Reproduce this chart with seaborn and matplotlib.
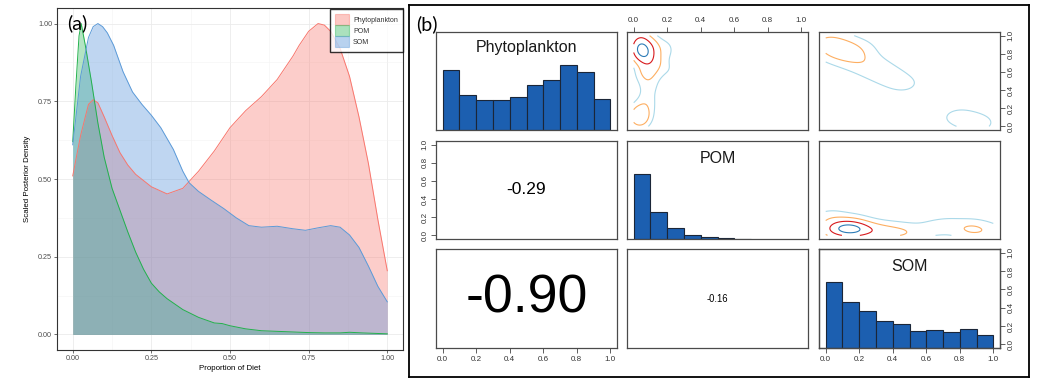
import numpy as np
import matplotlib
matplotlib.use("Agg")
import matplotlib.pyplot as plt
import seaborn as sns
from matplotlib.patches import Patch

# ---- panel (a): scaled posterior densities ----
phyto_x = [0.00, 0.025, 0.05, 0.065, 0.08, 0.10, 0.125, 0.15, 0.175, 0.20, 0.25, 0.30,
           0.35, 0.40, 0.45, 0.50, 0.55, 0.60, 0.65, 0.70, 0.72, 0.75, 0.78, 0.80,
           0.82, 0.85, 0.88, 0.91, 0.94, 0.97, 1.00]
phyto_y = [0.51, 0.64, 0.74, 0.755, 0.745, 0.70, 0.64, 0.585, 0.545, 0.515, 0.475, 0.452,
           0.47, 0.525, 0.59, 0.665, 0.72, 0.765, 0.82, 0.895, 0.93, 0.975, 1.00, 0.995,
           0.975, 0.92, 0.83, 0.70, 0.55, 0.37, 0.205]

pom_x = [0.00, 0.01, 0.02, 0.027, 0.04, 0.06, 0.08, 0.10, 0.125, 0.15, 0.175, 0.20,
         0.225, 0.25, 0.275, 0.30, 0.35, 0.40, 0.45, 0.475, 0.50, 0.55, 0.60, 0.65,
         0.70, 0.75, 0.80, 0.85, 0.88, 0.92, 1.00]
pom_y = [0.62, 0.80, 0.96, 1.00, 0.93, 0.81, 0.68, 0.57, 0.47, 0.40, 0.33, 0.265,
         0.21, 0.165, 0.137, 0.115, 0.08, 0.055, 0.037, 0.035, 0.028, 0.018, 0.012, 0.010,
         0.008, 0.006, 0.005, 0.005, 0.007, 0.005, 0.002]

som_x = [0.00, 0.025, 0.05, 0.065, 0.08, 0.095, 0.11, 0.13, 0.16, 0.19, 0.22, 0.25,
         0.28, 0.32, 0.35, 0.37, 0.40, 0.44, 0.48, 0.52, 0.56, 0.60, 0.65, 0.70,
         0.74, 0.78, 0.82, 0.85, 0.88, 0.91, 0.94, 0.97, 1.00]
som_y = [0.61, 0.83, 0.955, 0.99, 1.00, 0.99, 0.97, 0.93, 0.845, 0.78, 0.74, 0.705,
         0.665, 0.595, 0.525, 0.488, 0.46, 0.432, 0.405, 0.375, 0.35, 0.345, 0.348, 0.34,
         0.335, 0.343, 0.35, 0.345, 0.32, 0.28, 0.22, 0.155, 0.105]

sources = ["Phytoplankton", "POM", "SOM"]
line_colors = ["#F8766D", "#22B14C", "#5B9AD8"]
fill_colors = ["#F8766D", "#2DB55A", "#4F8FD9"]

# ---- panel (b): pairs plot ----
# relative histogram heights, bins of width 0.1 starting at 0
hist_phyto = [0.92, 0.53, 0.46, 0.46, 0.51, 0.69, 0.76, 1.00, 0.89, 0.47]
hist_pom = [1.00, 0.41, 0.17, 0.066, 0.03, 0.012, 0.006]
hist_som = [1.00, 0.69, 0.56, 0.415, 0.36, 0.256, 0.28, 0.25, 0.29, 0.20]

# correlations shown in the lower panels
corr_vals = {(1, 0): -0.29, (2, 0): -0.90, (2, 1): -0.16}

# representative posterior draws (location + weight) for the contour panels
pp_pom = [0.045, 0.08, 0.11, 0.14, 0.07, 0.19, 0.09, 0.08, 0.07, 0.035, 0.22, 0.02, 0.12, 0.05]
pp_phy = [0.84, 0.76, 0.88, 0.70, 0.60, 0.85, 0.45, 0.30, 0.20, 0.11, 0.62, 0.94, 0.60, 0.98]
pp_w = [10, 4, 2.5, 1.8, 2.5, 1.2, 1.3, 1.1, 1.1, 5.5, 0.6, 2, 1.0, 2]

sp_som = [0.08, 0.15, 0.03, 0.22, 0.30, 0.38, 0.46, 0.80, 0.90, 0.00, 0.18]
sp_phy = [0.85, 0.79, 0.91, 0.71, 0.63, 0.55, 0.47, 0.10, 0.04, 0.98, 0.86]
sp_w = [6, 4, 3, 2, 1.6, 1.3, 1.0, 1.2, 1.4, 1.5, 1.0]

so_som = [0.13, 0.20, 0.05, 0.30, 0.40, 0.50, 0.64, 0.74, 0.87, 0.98, 0.03, 0.15]
so_pom = [0.07, 0.06, 0.07, 0.05, 0.04, 0.03, 0.08, 0.11, 0.07, 0.04, 0.19, 0.14]
so_w = [8, 5, 4, 3, 2.4, 1.8, 1.2, 1.2, 3.0, 1.4, 1.6, 1.2]

contour_cols = ["#abd9e9", "#fdae61", "#d7191c", "#2c7bb6"]
bar_col = "#1c5fb0"
bar_edge = "#1b2638"

W, H = 1044, 388
plt.rcParams["font.family"] = ["Liberation Sans", "DejaVu Sans"]
fig = plt.figure(figsize=(W / 100, H / 100), dpi=100)


def px_axes(x0, y0, x1, y1, **kw):
    return fig.add_axes([x0 / W, 1 - y1 / H, (x1 - x0) / W, (y1 - y0) / H], **kw)


def density_grid(xs, ys, ws, bx, by, n=201):
    # gaussian kernel density of the weighted draws on [0, 1] x [0, 1]
    g = np.linspace(0, 1, n)
    gx, gy = np.meshgrid(g, g)
    z = np.zeros_like(gx)
    for x, y, w in zip(xs, ys, ws):
        z += w * np.exp(-0.5 * ((gx - x) / bx) ** 2 - 0.5 * ((gy - y) / by) ** 2)
    return gx, gy, z / z.max()


# ================= panel (a) =================
axa = px_axes(57, 8, 403, 350)
axa.set_xlim(-0.05, 1.05)
axa.set_ylim(-0.05, 1.05)
axa.set_xticks([0, 0.25, 0.5, 0.75, 1.0])
axa.set_yticks([0, 0.25, 0.5, 0.75, 1.0])
axa.set_xticks(np.arange(0.125, 1.0, 0.25), minor=True)
axa.set_yticks(np.arange(0.125, 1.0, 0.25), minor=True)
axa.grid(which="major", color="#ebebeb", lw=0.6)
axa.grid(which="minor", color="#f3f3f3", lw=0.4)
axa.set_axisbelow(True)
axa.tick_params(which="minor", length=0)
axa.tick_params(which="major", length=2, width=0.5, color="#333333",
                labelsize=5.2, labelcolor="#4d4d4d", pad=1.5)
axa.set_xticklabels(["0.00", "0.25", "0.50", "0.75", "1.00"])
axa.set_yticklabels(["0.00", "0.25", "0.50", "0.75", "1.00"])
for s in axa.spines.values():
    s.set_color("#333333")
    s.set_linewidth(0.8)

curves = [(phyto_x, phyto_y), (pom_x, pom_y), (som_x, som_y)]
for (cx, cy), lc, fc in zip(curves, line_colors, fill_colors):
    axa.fill_between(cx, 0, cy, color=fc, alpha=0.36, lw=0)
    sns.lineplot(x=cx, y=cy, color=lc, lw=0.7, ax=axa)

axa.set_xlabel("Proportion of Diet", fontsize=5.7, labelpad=2)
axa.set_ylabel("Scaled Posterior Density", fontsize=5.7, labelpad=5)

handles = [Patch(facecolor=fc, edgecolor=lc, alpha=0.4, lw=0.8)
           for lc, fc in zip(line_colors, fill_colors)]
leg = axa.legend(handles, sources, loc="upper right", bbox_to_anchor=(1.0, 0.997),
                 borderaxespad=0, fontsize=5, frameon=True, fancybox=False,
                 handlelength=2.0, handleheight=1.9, labelspacing=0.12,
                 borderpad=0.75, handletextpad=0.6)
leg.get_frame().set_edgecolor("black")
leg.get_frame().set_linewidth(1.0)
for t in leg.get_texts():
    t.set_color("#333333")

fig.text(77 / W, 1 - 23 / H, "(a)", ha="center", va="center", fontsize=14,
         family=["Lato", "DejaVu Sans"])

# ================= panel (b) =================
frame = px_axes(409, 5, 1029, 377, zorder=-1)
frame.set_xticks([])
frame.set_yticks([])
for s in frame.spines.values():
    s.set_color("black")
    s.set_linewidth(1.3)

fig.text(427 / W, 1 - 24 / H, "(b)", ha="center", va="center", fontsize=14,
         family=["Lato", "DejaVu Sans"])

cols_px = [(436, 617), (627, 808), (819, 1000)]
rows_px = [(32, 130), (141, 239), (249, 348)]
lims = (-0.04, 1.04)
ticks = np.arange(0, 1.01, 0.2)
tick_lbls = [f"{t:.1f}" for t in ticks]
tick_kw = dict(length=3.5, width=0.6, color="#444444", labelsize=5.8,
               labelcolor="#333333", pad=2)

cells = {}
for r, (y0, y1) in enumerate(rows_px):
    for c, (x0, x1) in enumerate(cols_px):
        ax = px_axes(x0, y0, x1, y1)
        ax.set_xlim(*lims)
        ax.set_xticks([])
        ax.set_yticks([])
        for s in ax.spines.values():
            s.set_color("#4a4a4a")
            s.set_linewidth(0.9)
        cells[(r, c)] = ax

# diagonal histograms
hists = [hist_phyto, hist_pom, hist_som]
label_y = [0.84, 0.82, 0.82]
for i, (name, h) in enumerate(zip(sources, hists)):
    ax = cells[(i, i)]
    edges = [round(k * 0.1, 2) for k in range(len(h) + 1)]
    mids = [e + 0.05 for e in edges[:-1]]
    sns.histplot(x=mids, weights=h, bins=edges, color=bar_col, alpha=1,
                 edgecolor=bar_edge, linewidth=0.8, ax=ax)
    ax.set_ylim(0, 1.5)
    ax.set_xlim(*lims)
    ax.set_xlabel("")
    ax.set_ylabel("")
    ax.set_xticks([])
    ax.set_yticks([])
    ax.text(0.5, label_y[i], name, transform=ax.transAxes, ha="center",
            va="center", fontsize=11.5, color="#1a1a1a")

# upper panels: density contours
contour_sets = {
    (0, 1): (pp_pom, pp_phy, pp_w, 0.04, 0.08, [0.07, 0.2, 0.45, 0.8]),
    (0, 2): (sp_som, sp_phy, sp_w, 0.07, 0.07, [0.07, 0.4]),
    (1, 2): (so_som, so_pom, so_w, 0.07, 0.065, [0.06, 0.22, 0.5, 0.82]),
}
for (r, c), (xs, ys, ws, bx, by, lv) in contour_sets.items():
    ax = cells[(r, c)]
    gx, gy, z = density_grid(xs, ys, ws, bx, by)
    ax.contour(gx, gy, z, levels=lv, colors=contour_cols[:len(lv)], linewidths=0.8)
    ax.set_xlim(*lims)
    ax.set_ylim(*lims)
    ax.set_xticks([])
    ax.set_yticks([])

# lower panels: correlations, text size scaled by |r|
for (r, c), val in corr_vals.items():
    ax = cells[(r, c)]
    ax.text(0.5, 0.5, f"{val:.2f}", transform=ax.transAxes, ha="center",
            va="center", fontsize=43 * abs(val), color="black")

# outer axes, alternating sides as in R pairs()
for c in (0, 2):
    ax = cells[(2, c)]
    ax.set_xticks(ticks)
    ax.set_xticklabels(tick_lbls)
    ax.tick_params(axis="x", **tick_kw)
ax = cells[(0, 1)]
ax.xaxis.tick_top()
ax.set_xticks(ticks)
ax.set_xticklabels(tick_lbls)
ax.tick_params(axis="x", **tick_kw)

ax = cells[(1, 0)]
ax.set_ylim(*lims)
ax.set_yticks(ticks)
ax.set_yticklabels(tick_lbls, rotation=90, va="center")
ax.tick_params(axis="y", **tick_kw)

for r in (0, 2):
    base = cells[(r, 2)]
    ax = base.twinx() if r == 2 else base
    ax.set_ylim(*lims)
    ax.yaxis.tick_right()
    ax.set_yticks(ticks)
    ax.set_yticklabels(tick_lbls, rotation=90, va="center")
    ax.tick_params(axis="y", **tick_kw)
    for s in ax.spines.values():
        s.set_color("#4a4a4a")
        s.set_linewidth(0.9)

fig.savefig("out.png", dpi=100)
